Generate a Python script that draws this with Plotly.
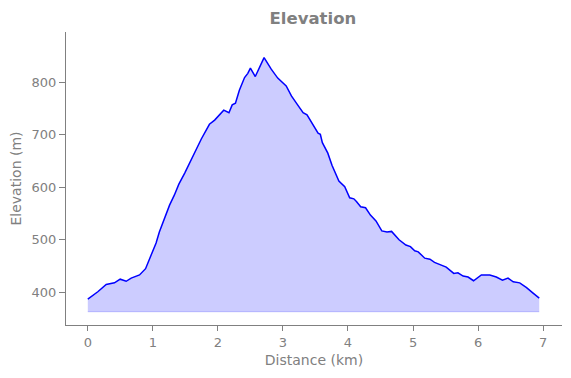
import plotly.graph_objects as go

distance_km = [0.0, 0.154, 0.283, 0.41, 0.498, 0.59, 0.667, 0.795, 0.888, 0.95, 1.05, 1.10,
               1.205, 1.257, 1.33, 1.40, 1.49, 1.59, 1.68, 1.745, 1.87, 1.95, 2.09, 2.17,
               2.22, 2.27, 2.33, 2.41, 2.46, 2.50, 2.575, 2.64, 2.71, 2.82, 2.92, 3.05,
               3.13, 3.215, 3.31, 3.37, 3.46, 3.54, 3.575, 3.606, 3.69, 3.754, 3.86, 3.95,
               4.026, 4.09, 4.13, 4.195, 4.27, 4.345, 4.43, 4.52, 4.60, 4.67, 4.785, 4.89,
               4.96, 5.026, 5.08, 5.18, 5.26, 5.33, 5.51, 5.626, 5.69, 5.77, 5.846, 5.93,
               6.05, 6.18, 6.28, 6.375, 6.46, 6.54, 6.64, 6.745, 6.85, 6.94]
elevation_m = [387, 401, 415, 418, 425, 421, 427, 433, 445, 465, 494, 515,
               550, 566, 585, 606, 627, 652, 674, 692, 720, 728, 747, 742,
               757, 760, 785, 809, 817, 827, 811, 830, 847, 825, 808, 793,
               774, 759, 742, 738, 719, 703, 701, 685, 665, 642, 612, 601,
               580, 578, 573, 563, 561, 547, 536, 517, 515, 516, 500, 490,
               487, 479, 477, 465, 463, 457, 448, 436, 437, 431, 429, 422,
               433, 433, 429, 423, 427, 420, 418, 409, 398, 389]
baseline_m = 363

grey = "#808080"

fig = go.Figure()
fig.add_trace(go.Scatter(
    x=[distance_km[0], distance_km[-1]], y=[baseline_m, baseline_m],
    mode="lines", line=dict(color="rgba(0,0,255,0.2)", width=1),
    hoverinfo="skip", showlegend=False))
fig.add_trace(go.Scatter(
    x=distance_km, y=elevation_m, mode="lines",
    line=dict(color="#0000ff", width=1.5),
    fill="tonexty", fillcolor="rgba(0,0,255,0.2)", showlegend=False))

fig.update_layout(
    width=571, height=378,
    margin=dict(l=58, r=17, t=24, b=61),
    plot_bgcolor="white", paper_bgcolor="white",
    font=dict(family="DejaVu Sans", color=grey, size=13),
    title=dict(text="<b>Elevation</b>", x=0.534, xanchor="center",
               y=0.9735, yanchor="middle",
               font=dict(size=16.5, color=grey, family="DejaVu Sans")),
    xaxis=dict(range=[-0.335, 7.29], tickmode="array", tickvals=list(range(8)),
               showgrid=False, zeroline=False, showline=True, linecolor=grey,
               linewidth=1, ticks="outside", ticklen=5, tickcolor=grey,
               tickfont=dict(size=13, color=grey), automargin=False,
               title=dict(text="Distance (km)", font=dict(size=14, color=grey), standoff=6)),
    yaxis=dict(range=[337.7, 895.8], tickmode="array", tickvals=[400, 500, 600, 700, 800],
               showgrid=False, zeroline=False, showline=True, linecolor=grey,
               linewidth=1, ticks="outside", ticklen=6, tickcolor=grey,
               tickfont=dict(size=13, color=grey), automargin=False,
               title=dict(text="Elevation (m)", font=dict(size=14, color=grey), standoff=7)),
)

fig.write_html("out.html")
